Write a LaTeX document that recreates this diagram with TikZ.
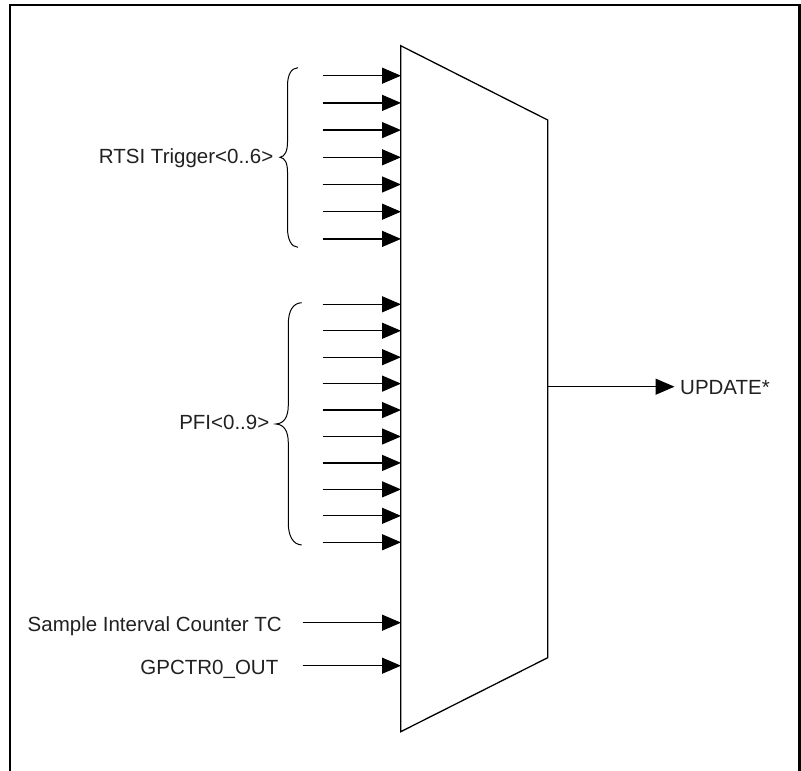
\documentclass[tikz,border=0pt]{standalone}
\usepackage{fontspec}
\setmainfont{Liberation Sans}
\usetikzlibrary{arrows.meta}
\begin{document}
\begin{tikzpicture}[x=1pt,y=-1pt,
  sig/.style={line width=1.3pt,-{Triangle[length=19pt,width=16pt]}},
  lbl/.style={inner sep=0pt,font=\fontsize{20.5}{24}\selectfont,text=black!87},
  brace/.style={line width=1pt},
  frame/.style={line width=2.4pt,line cap=rect}]
\useasboundingbox (0,0) rectangle (801,771);
% outer frame (open at bottom)
\draw[frame] (10,775) -- (10,5) -- (799.5,5) -- (799.5,775);
% multiplexer
\coordinate (mtl) at (400.7,45.7);
\coordinate (mtr) at (547.7,120);
\coordinate (mbr) at (547.7,657.7);
\coordinate (mbl) at (400.7,731.7);
\draw[line width=1.3pt,line join=miter] (mtl) -- (mtr) -- (mbr) -- (mbl) -- cycle;
% RTSI inputs
\foreach \i in {0,...,6}{
  \coordinate (rs\i) at (322.7,{75.7+27.2*\i});
  \coordinate (re\i) at (401,{75.7+27.2*\i});
  \draw[sig] (rs\i) -- (re\i);
}
% PFI inputs
\foreach \i in {0,...,9}{
  \coordinate (ps\i) at (322.7,{304.3+26.44*\i});
  \coordinate (pe\i) at (401,{304.3+26.44*\i});
  \draw[sig] (ps\i) -- (pe\i);
}
% braces
\draw[brace] (298,67.7) .. controls (291,68) and (287.5,75) .. (287.5,86)
  -- (287.5,142) .. controls (287.5,151) and (285,156.5) .. (280,157.3)
  .. controls (285,158) and (287.5,163) .. (287.5,172)
  -- (287.5,228) .. controls (287.5,239) and (291,247) .. (298,247.3);
\draw[brace] (301.7,302.7) .. controls (293,303) and (288.3,311) .. (288.3,324)
  -- (288.3,405) .. controls (288.3,417) and (284,423.5) .. (276,424)
  .. controls (284,424.5) and (288.3,431) .. (288.3,443)
  -- (288.3,523) .. controls (288.3,536) and (293,544.5) .. (301.7,545);
% labels
\node[lbl,anchor=base east] (rtsi) at (273.5,163.5) {RTSI Trigger<0..6>};
\node[lbl,anchor=base east] (pfi) at (269.5,429.5) {PFI<0..9>};
\node[lbl,anchor=base east] (sictc) at (282,631) {Sample Interval Counter TC};
\node[lbl,anchor=base east] (gpctr) at (278.5,674.5) {GPCTR0\_OUT};
\node[lbl,anchor=base west] (upd) at (680,394) {UPDATE*};
% other inputs
\coordinate (ss) at (302.7,622.7);
\coordinate (se) at (401,622.7);
\coordinate (gs) at (302.7,665.7);
\coordinate (ge) at (401,665.7);
\draw[sig] (ss) -- (se);
\draw[sig] (gs) -- (ge);
% output
\coordinate (os) at (547.7,386.7);
\coordinate (oe) at (674.5,386.7);
\draw[sig] (os) -- (oe);
\end{tikzpicture}
\end{document}
